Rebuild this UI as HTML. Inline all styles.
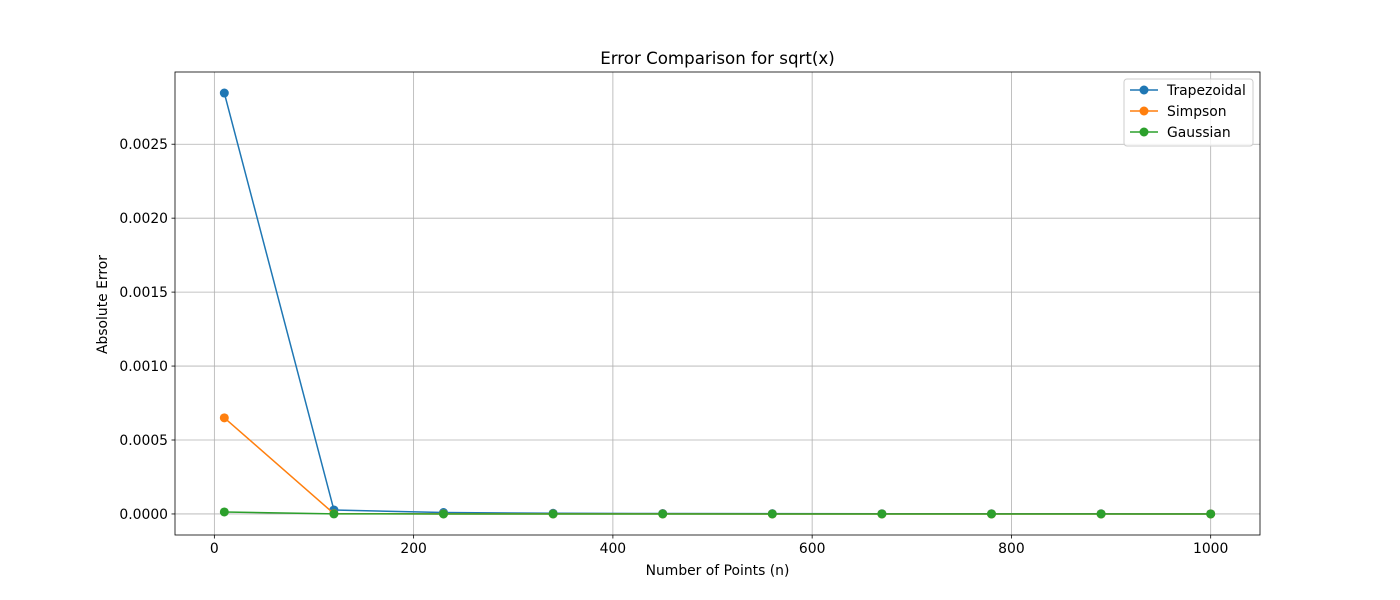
<!DOCTYPE html>
<html><head><meta charset="utf-8"><style>
html,body{margin:0;padding:0;background:#fff;}
svg{display:block;font-family:"DejaVu Sans","Liberation Sans",sans-serif;}
</style></head><body>
<svg id="chart" width="1400" height="600" viewBox="0 0 1400 600"></svg>
<script>
const xValues=[10,120,230,340,450,560,670,780,890,1000];
const trapezoidal=[0.002846,0.000027,0.0000095,0.0000045,0.0000028,0.000002,0.0000015,0.0000012,0.000001,0.0000008];
const simpson=[0.00065,0.000002,0.0000006,0.0000003,0.0000002,0.0000001,0.0000001,0.0000001,0.0000001,0.0000001];
const gaussian=[0.0000135,0.0000002,0.0000001,0,0,0,0,0,0,0];
const xTicks=[0,200,400,600,800,1000];
const yTicks=[0,0.0005,0.001,0.0015,0.002,0.0025];
const yTickLabels=["0.0000","0.0005","0.0010","0.0015","0.0020","0.0025"];
const seriesNames=["Trapezoidal","Simpson","Gaussian"];
const seriesColors=["#1f77b4","#ff7f0e","#2ca02c"];

const L=175,R=1260,T=72,B=535;
const xmin=-39.5,xmax=1049.5;
const allY=trapezoidal.concat(simpson,gaussian);
const dmax=Math.max(...allY),dmin=Math.min(...allY);
const ymin=dmin-(dmax-dmin)*0.05,ymax=dmax+(dmax-dmin)*0.05;
const sx=v=>L+(v-xmin)/(xmax-xmin)*(R-L);
const sy=v=>B-(v-ymin)/(ymax-ymin)*(B-T);
const svg=document.getElementById('chart');
const NS="http://www.w3.org/2000/svg";
const FS=13.9;
function mk(tag,attrs,parent){const e=document.createElementNS(NS,tag);for(const k in attrs)e.setAttribute(k,attrs[k]);(parent||svg).appendChild(e);return e;}

const grid=mk('g',{});


xTicks.forEach(t=>{
  mk('line',{x1:sx(t),x2:sx(t),y1:T,y2:B,stroke:"#b0b0b0","stroke-width":0.8},grid);
  mk('line',{x1:sx(t),x2:sx(t),y1:B,y2:B+3.5,stroke:"#000","stroke-width":0.8});
  const tx=mk('text',{x:sx(t),y:B+18,"text-anchor":"middle","font-size":FS});
  
  
  tx.textContent=t;
});
yTicks.forEach((t,i)=>{
  mk('line',{x1:L,x2:R,y1:sy(t),y2:sy(t),stroke:"#b0b0b0","stroke-width":0.8},grid);
  mk('line',{x1:L-3.5,x2:L,y1:sy(t),y2:sy(t),stroke:"#000","stroke-width":0.8});
  const tx=mk('text',{x:L-7,y:sy(t)+5,"text-anchor":"end","font-size":FS});
  
  
  tx.textContent=yTickLabels[i];
});

[trapezoidal,simpson,gaussian].forEach((s,si)=>{
  const g=mk('g',{});
  
  
  mk('polyline',{points:s.map((v,i)=>sx(xValues[i])+","+sy(v)).join(" "),fill:"none",stroke:seriesColors[si],"stroke-width":1.5},g);
  s.forEach((v,i)=>{
    const c=mk('circle',{cx:sx(xValues[i]),cy:sy(v),r:4.5,fill:seriesColors[si]},g);
    
    
  });
});

const frame=mk('rect',{x:L,y:T,width:R-L,height:B-T,fill:"none",stroke:"#000","stroke-width":0.8});



const title=mk('text',{x:(L+R)/2,y:64,"text-anchor":"middle","font-size":16.67});


title.textContent="Error Comparison for sqrt(x)";
const xt=mk('text',{x:(L+R)/2,y:575,"text-anchor":"middle","font-size":FS});


xt.textContent="Number of Points (n)";
const yt=mk('text',{x:107,y:(T+B)/2,"text-anchor":"middle","font-size":FS,transform:"rotate(-90 107 "+((T+B)/2)+")"});


yt.setAttribute('x',106);
yt.textContent="Absolute Error";

const lg=mk('g',{});


mk('rect',{x:1124,y:79,width:129,height:67,rx:3,fill:"#fff","fill-opacity":0.8,stroke:"#cccccc","stroke-width":1},lg);
seriesNames.forEach((n,i)=>{
  const y=90+i*21;
  const e=mk('g',{},lg);
  
  
  mk('line',{x1:1130,x2:1158,y1:y,y2:y,stroke:seriesColors[i],"stroke-width":1.5},e);
  mk('circle',{cx:1144,cy:y,r:4.5,fill:seriesColors[i]},e);
  const t=mk('text',{x:1167,y:y+5,"font-size":FS},e);
  t.textContent=n;
});
</script>
</body></html>
